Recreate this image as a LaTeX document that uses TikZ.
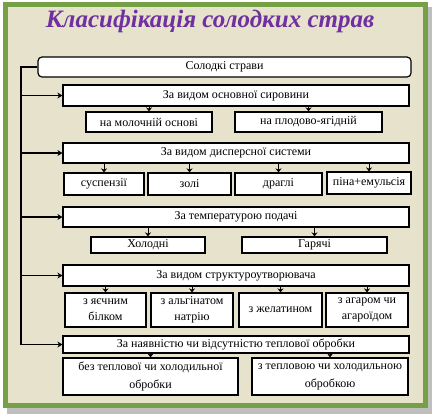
\documentclass[tikz,border=0pt]{standalone}
\usepackage{fontspec}
\setmainfont{Liberation Serif}
\usetikzlibrary{arrows.meta}
\definecolor[named]{FrameGreen}{HTML}{76A045}
\definecolor[named]{PaperBeige}{HTML}{E6E2CC}
\definecolor[named]{TitlePurple}{HTML}{7030A0}
\begin{document}
\begin{tikzpicture}[x=1pt,y=-1pt,
    box/.style={draw,fill=white,line width=1.2pt,inner sep=0.5pt,
      align=center,font=\fontsize{12}{16}\selectfont},
    tip/.style={-{Stealth[length=5pt,width=6pt]},line width=1.2pt}]
  \useasboundingbox (0,0) rectangle (435,418);
  % frame
  \fill[black!25] (7,7) rectangle (432,414);
  \fill[FrameGreen] (3,2) rectangle (428,408);
  \fill[PaperBeige] (8,7) rectangle (423,403);
  \node[font=\fontsize{25}{25}\selectfont\bfseries\itshape,text=TitlePurple]
    (title) at (210,21) {Класифікація солодких страв};
  % root
  \node[box,rounded corners=4pt,minimum width=373pt,minimum height=20pt]
    (root) at (224.5,67) {Солодкі страви};
  % first level
  \node[box,minimum width=346pt,minimum height=21pt] (L1a) at (236,95.5) {За видом основної сировини};
  \node[box,minimum width=346pt,minimum height=20pt] (L1b) at (236,153) {За видом дисперсної системи};
  \node[box,minimum width=346pt,minimum height=20pt] (L1c) at (236,217) {За температурою подачі};
  \node[box,minimum width=346pt,minimum height=21pt] (L1d) at (236,275.5) {За видом структуроутворювача};
  \node[box,minimum width=346pt,minimum height=17pt] (L1e) at (236,344.5) {За наявністю чи відсутністю теплової обробки};
  % second level
  \node[box,minimum width=126pt,minimum height=20pt] (a1) at (149,122) {на молочній основі};
  \node[box,minimum width=147pt,minimum height=20pt] (a2) at (308.5,122) {на плодово-ягідній};
  \node[box,minimum width=80pt,minimum height=22pt] (b1) at (104,184) {суспензії};
  \node[box,minimum width=83pt,minimum height=22pt] (b2) at (189.5,184) {золі};
  \node[box,minimum width=87pt,minimum height=22pt] (b3) at (278.5,184) {драглі};
  \node[box,minimum width=84pt,minimum height=22pt] (b4) at (369,183) {піна+емульсія};
  \node[box,minimum width=114pt,minimum height=16pt] (c1) at (148,245) {Холодні};
  \node[box,minimum width=145pt,minimum height=16pt] (c2) at (314.5,245) {Гарячі};
  \node[box,minimum width=81pt,minimum height=34pt] (d1) at (105.5,310) {з яєчним\\білком};
  \node[box,minimum width=82pt,minimum height=34pt] (d2) at (192,310) {з альгінатом\\натрію};
  \node[box,minimum width=83pt,minimum height=34pt] (d3) at (280.5,310) {з желатином};
  \node[box,minimum width=82pt,minimum height=34pt] (d4) at (367,310) {з агаром чи\\агароїдом};
  \node[box,minimum width=175pt,minimum height=37pt,font=\fontsize{12}{18}\selectfont]
    (e1) at (150.5,376.5) {без теплової чи холодильної\\обробки};
  \node[box,minimum width=156pt,minimum height=37pt,font=\fontsize{12}{18}\selectfont]
    (e2) at (330,376.5) {з тепловою чи холодильною\\обробкою};
  % trunk
  \coordinate (trunk) at (21,67);
  \draw[tip] (root.west) -- (trunk) |- (L1e.west);
  \foreach \n in {L1a,L1b,L1c,L1d}
    \draw[tip] (trunk |- \n.west) -- (\n.west);
  % short arrows to children
  \foreach \p/\c in {L1a/a1,L1a/a2,L1b/b1,L1b/b2,L1b/b3,L1b/b4,L1c/c1,L1c/c2,
                     L1d/d1,L1d/d2,L1d/d3,L1d/d4,L1e/e1,L1e/e2}
    \draw[-{Stealth[length=4pt,width=6pt]},line width=1pt] (\p.south -| \c.north) -- (\c.north);
\end{tikzpicture}
\end{document}
